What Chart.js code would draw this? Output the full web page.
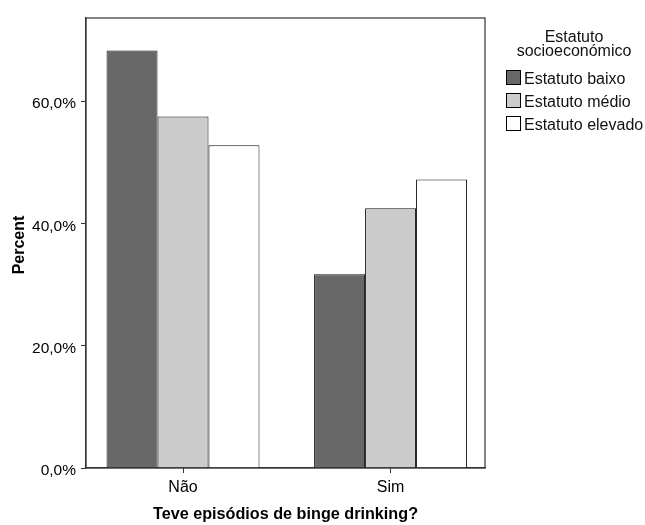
<!DOCTYPE html>
<html>
<head>
<meta charset="utf-8">
<script src="https://cdn.jsdelivr.net/npm/chart.js@4.4.1/dist/chart.umd.min.js"></script>
<style>
body { margin: 0; background: #fff; }
#wrap { position: relative; width: 645px; height: 525px; }
#legend { position: absolute; left: 506px; top: 30px; font-family: "Liberation Sans", Arial, sans-serif; font-size: 16px; color: #111; }
#legend .title { width: 136px; text-align: center; line-height: 14px; margin-bottom: 11px; }
#legend .item { display: flex; align-items: flex-start; height: 23px; line-height: 19px; }
#legend .box { width: 15px; height: 15px; box-sizing: border-box; border: 1px solid #000; margin: 1px 3px 0 0; }
</style>
</head>
<body>
<div id="wrap">
  <canvas id="myChart" width="645" height="525"></canvas>
  <div id="legend"></div>
</div>
<script>
// data
const categories = ['Não', 'Sim'];
const groupLabels = ['Estatuto baixo', 'Estatuto médio', 'Estatuto elevado'];
const baixo = [68.3, 31.7];
const medio = [57.5, 42.5];
const elevado = [52.8, 47.2];
const yTicks = [0, 20, 40, 60];

const fillColors = ['#686868', '#cccccc', '#ffffff'];
const font = '"Liberation Sans", Arial, sans-serif';

function toPoints(values) {
    return values.map((v, i) => ({ x: i, y: v }));
}

// box round the plot and the y title
const framePlugin = {
    id: 'frame',
    afterDraw(chart) {
        const { ctx, chartArea: a } = chart;
        ctx.save();
        ctx.strokeStyle = '#333';
        ctx.lineWidth = 1.2;
        ctx.strokeRect(a.left, a.top, a.right - a.left, a.bottom - a.top);
        ctx.translate(24, (a.top + a.bottom) / 2 + 2);
        ctx.rotate(-Math.PI / 2);
        ctx.font = 'bold 16px ' + font;
        ctx.fillStyle = '#000';
        ctx.textAlign = 'center';
        ctx.textBaseline = 'alphabetic';
        ctx.fillText('Percent', 0, 0);
        ctx.restore();
    }
};

const ctx = document.getElementById('myChart').getContext('2d');
const myChart = new Chart(ctx, {
    type: 'bar',
    data: {
        datasets: [baixo, medio, elevado].map((vals, i) => ({
            label: groupLabels[i],
            data: toPoints(vals),
            backgroundColor: fillColors[i],
            borderColor: '#111',
            borderWidth: 1,
            categoryPercentage: 0.737,
            barPercentage: 1
        }))
    },
    options: {
        responsive: false,
        animation: false,
        layout: { padding: { top: 18, right: 160, left: 0, bottom: 0 } },
        plugins: {
            legend: { display: false },
            tooltip: { enabled: false }
        },
        scales: {
            x: {
                type: 'linear',
                offset: false,
                min: -0.4675,
                max: 1.455,
                afterBuildTicks: s => { s.ticks = categories.map((c, i) => ({ value: i })); },
                afterFit: s => { s.height = 57; },
                ticks: {
                    callback: v => categories[v],
                    color: '#000',
                    font: { family: font, size: 16 },
                    padding: 5
                },
                grid: { offset: false, drawOnChartArea: false, tickLength: 5, color: '#333' },
                border: { display: true, color: '#333', width: 1.2 },
                title: {
                    display: true,
                    text: 'Teve episódios de binge drinking?',
                    color: '#000',
                    font: { family: font, size: 16.2, weight: 'bold' },
                    padding: { top: 0, bottom: 1 }
                }
            },
            y: {
                min: 0,
                max: 73.6,
                afterBuildTicks: s => { s.ticks = yTicks.map(v => ({ value: v })); },
                afterFit: s => { s.width = 86; },
                ticks: {
                    callback: v => v.toFixed(1).replace('.', ',') + '%',
                    color: '#000',
                    font: { family: font, size: 15.5 },
                    padding: 5,
                    labelOffset: 3
                },
                grid: { drawOnChartArea: false, tickLength: 5, color: '#333' },
                border: { display: true, color: '#333', width: 1.2 }
            }
        }
    },
    plugins: [framePlugin]
});

// legend
const legend = document.getElementById('legend');
legend.innerHTML = '<div class="title">Estatuto<br>socioeconómico</div>' +
    myChart.data.datasets.map(d =>
        '<div class="item"><span class="box" style="background:' + d.backgroundColor + '"></span>' + d.label + '</div>'
    ).join('');
</script>
</body>
</html>
